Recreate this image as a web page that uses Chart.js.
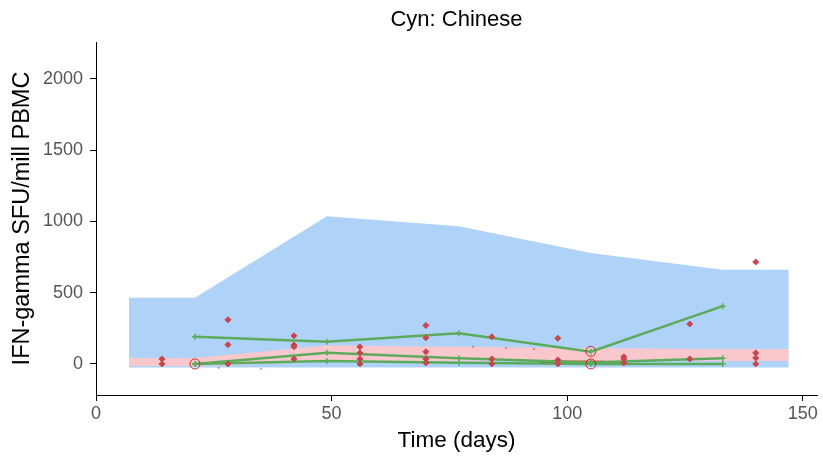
<!DOCTYPE html>
<html>
<head>
<meta charset="utf-8">
<script src="https://cdn.jsdelivr.net/npm/chart.js@4"></script>
<style>
  html, body { margin: 0; padding: 0; background: #fff; }
  #wrap { width: 823px; height: 458px; }
</style>
</head>
<body>
<div id="wrap"><canvas id="cynchart"></canvas></div>
<script>
// band days and limits
var bandDays = [7, 21, 49, 77, 105, 133, 147];
var blueHigh = [465, 465, 1035, 965, 778, 660, 660];
var blueLow = [-25, -25, -25, -25, -25, -25, -25];
var pinkHigh = [42, 42, 130, 120, 110, 105, 105];
var pinkLow = [-14, -14, 15, 20, 20, 20, 20];

// subject trajectories
var lineDays = [21, 49, 77, 105, 133];
var subjA = [190, 155, 215, 85, 405];
var subjB = [0, 78, 40, 10, 40];
var subjC = [0, 20, 8, 0, 0];
var redDays = [94, 108];
var redVals = [14, 12];

// individual observations
var obsDays = [14, 14, 28, 28, 28, 42, 42, 42, 42, 56, 56, 56, 56, 70, 70, 70, 70, 70,
  84, 84, 84, 98, 98, 98, 112, 112, 112, 126, 126, 140, 140, 140, 140];
var obsVals = [35, 0, 310, 135, 0, 197, 133, 120, 35, 120, 77, 35, 0, 270, 183, 85, 35, 7,
  190, 35, 0, 180, 28, 0, 50, 35, 7, 280, 35, 715, 77, 42, 0];
var specDays = [26, 35, 80, 87, 93];
var specVals = [-28, -35, 120, 112, 105];
var circDays = [21, 105, 105];
var circVals = [0, 88, 0];

var xTicks = [0, 50, 100, 150];
var yTicks = [0, 500, 1000, 1500, 2000];
var titleText = 'Cyn: Chinese';

function pts(xs, ys) {
  return xs.map(function (x, i) { return {x: x, y: ys[i]}; });
}

var green = '#5cab5c';
var lineSet = function (vals) {
  return {
    type: 'line', data: pts(lineDays, vals), borderColor: green, borderWidth: 2.5,
    pointStyle: 'cross', pointRadius: 3, pointBorderColor: green, pointBorderWidth: 1.5,
    fill: false, tension: 0, order: 3
  };
};

// title centred over the plot area, like the R plot
var plotTitle = {
  id: 'plotTitle',
  afterDraw: function (c) {
    var g = c.ctx, a = c.chartArea;
    g.save();
    g.fillStyle = '#000';
    g.font = '22px "Liberation Sans"';
    g.textAlign = 'center';
    g.textBaseline = 'middle';
    g.fillText(titleText, (a.left + a.right) / 2, 20);
    g.restore();
  }
};

var ctx = document.getElementById('cynchart').getContext('2d');
var chart = new Chart(ctx, {
  type: 'scatter',
  data: {
    datasets: [
      { type: 'line', data: pts(bandDays, blueHigh), borderWidth: 0, pointRadius: 0,
        backgroundColor: '#afd3f8', fill: '+1', order: 10 },
      { type: 'line', data: pts(bandDays, blueLow), borderWidth: 0, pointRadius: 0, fill: false, order: 11 },
      { type: 'line', data: pts(bandDays, pinkHigh), borderWidth: 0, pointRadius: 0,
        backgroundColor: '#f8c8cc', fill: '+1', order: 8 },
      { type: 'line', data: pts(bandDays, pinkLow), borderWidth: 0, pointRadius: 0, fill: false, order: 9 },
      lineSet(subjA),
      lineSet(subjB),
      lineSet(subjC),
      { type: 'line', data: pts(redDays, redVals), borderColor: '#e81010', borderWidth: 3,
        pointRadius: 0, fill: false, order: 4 },
      { data: pts(obsDays, obsVals), pointStyle: 'rectRot', pointRadius: 3,
        backgroundColor: '#c8464e', borderColor: '#c8464e', order: 1 },
      { data: pts(specDays, specVals), pointStyle: 'rect', pointRadius: 1,
        backgroundColor: '#c8464e', borderColor: '#c8464e', borderWidth: 0, order: 1 },
      { data: pts(circDays, circVals), pointStyle: 'circle', pointRadius: 5,
        backgroundColor: 'rgba(0,0,0,0)', borderColor: '#d42a2a', pointBorderWidth: 1, order: 0 }
    ]
  },
  plugins: [plotTitle],
  options: {
    responsive: true,
    maintainAspectRatio: false,
    animation: false,
    layout: { padding: { left: 0, right: 6, top: 42, bottom: 0 } },
    plugins: {
      legend: { display: false },
      tooltip: { enabled: false },
      title: { display: false }
    },
    scales: {
      x: {
        type: 'linear', min: 0, max: 153,
        afterBuildTicks: function (s) { s.ticks = xTicks.map(function (v) { return {value: v}; }); },
        afterFit: function (s) { s.height = 63; },
        grid: { display: true, drawOnChartArea: false, drawTicks: true, tickLength: 6, color: '#000' },
        border: { display: true, color: '#000', width: 1 },
        ticks: { color: '#555', padding: 2, maxRotation: 0,
          callback: function (v) { return String(v); },
          font: { family: 'Liberation Sans', size: 18 } },
        title: { display: true, text: 'Time (days)', color: '#000',
          font: { family: 'Liberation Sans', size: 22.5, lineHeight: 1.2 },
          padding: { top: 0, bottom: 4 } }
      },
      y: {
        type: 'linear', min: -218, max: 2258,
        afterBuildTicks: function (s) { s.ticks = yTicks.map(function (v) { return {value: v}; }); },
        afterFit: function (s) { s.width = 96; },
        grid: { display: true, drawOnChartArea: false, drawTicks: true, tickLength: 6, color: '#000' },
        border: { display: true, color: '#000', width: 1 },
        ticks: { color: '#555', padding: 7,
          callback: function (v) { return String(v); },
          font: { family: 'Liberation Sans', size: 18 } },
        title: { display: true, text: 'IFN-gamma SFU/mill PBMC', color: '#000',
          font: { family: 'Liberation Sans', size: 23.5, lineHeight: 1.2 },
          padding: { top: 8, bottom: 0 } }
      }
    }
  }
});
</script>
</body>
</html>
